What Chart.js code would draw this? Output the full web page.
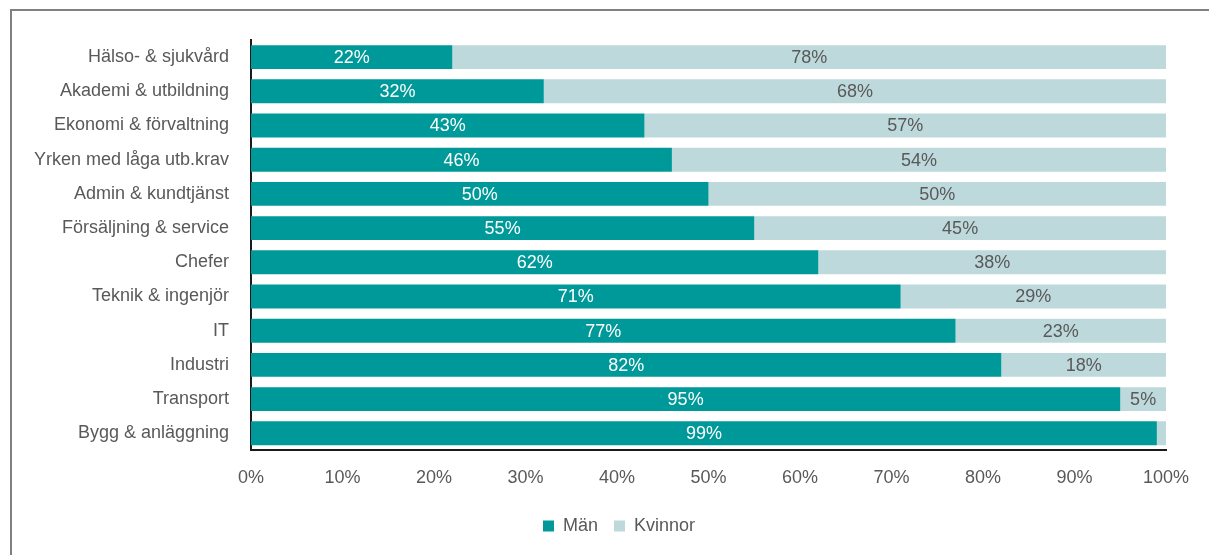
<!DOCTYPE html>
<html>
<head>
<meta charset="utf-8">
<script src="https://cdn.jsdelivr.net/npm/chart.js@4/dist/chart.umd.min.js"></script>
<style>
  html,body{margin:0;padding:0;background:#fff;}
  #wrap{position:relative;width:1209px;height:555px;}
  #frame{position:absolute;left:10px;top:9px;right:-5px;bottom:-5px;border-left:2px solid #808080;border-top:2px solid #808080;}
  canvas{position:absolute;left:0;top:0;}
</style>
</head>
<body>
<div id="wrap"><div id="frame"></div><canvas id="c" width="1209" height="555"></canvas></div>
<script>
const categories = ["Hälso- & sjukvård","Akademi & utbildning","Ekonomi & förvaltning","Yrken med låga utb.krav","Admin & kundtjänst","Försäljning & service","Chefer","Teknik & ingenjör","IT","Industri","Transport","Bygg & anläggning"];
const man = [22,32,43,46,50,55,62,71,77,82,95,99];
const kvinnor = [78,68,57,54,50,45,38,29,23,18,5,1];
const xTicks = [0,10,20,30,40,50,60,70,80,90,100];

const FONT = "'Liberation Sans','Arial',sans-serif";
const GRAY = '#595959';

const labelPlugin = {
  id: 'barLabels',
  afterDatasetsDraw(chart) {
    const ctx = chart.ctx;
    ctx.save();
    ctx.font = '18px ' + FONT;
    ctx.textAlign = 'center';
    ctx.textBaseline = 'middle';
    chart.data.datasets.forEach((ds, di) => {
      const meta = chart.getDatasetMeta(di);
      meta.data.forEach((bar, i) => {
        const v = ds.data[i];
        if (v < 3) return;
        const cx = (bar.x + bar.base) / 2;
        ctx.fillStyle = di === 0 ? '#ffffff' : GRAY;
        ctx.fillText(v + '%', cx, bar.y + 1);
      });
    });
    ctx.restore();
  }
};

// position the legend like the original
const legendShift = {
  id: 'legendShift',
  afterLayout(chart) {
    const lg = chart.legend;
    if (!lg) return;
    const w = lg.right - lg.left;
    const center = 619;
    lg.left = center - w / 2;
    lg.right = center + w / 2;
    lg.top -= 5;
    lg.bottom -= 5;
  }
};

new Chart(document.getElementById('c'), {
  type: 'bar',
  data: {
    labels: categories,
    datasets: [
      {label: 'Män', data: man, backgroundColor: '#009999', barPercentage: 0.7, categoryPercentage: 1},
      {label: 'Kvinnor', data: kvinnor, backgroundColor: '#BED9DB', barPercentage: 0.7, categoryPercentage: 1}
    ]
  },
  options: {
    indexAxis: 'y',
    responsive: false,
    animation: false,
    layout: {padding: {left: 10, right: 43, top: 40, bottom: 5}},
    plugins: {
      legend: {
        position: 'bottom',
        labels: {
          color: GRAY,
          font: {family: FONT, size: 18},
          boxWidth: 11, boxHeight: 11,
          padding: 16
        }
      },
      tooltip: {enabled: false}
    },
    scales: {
      x: {
        stacked: true, min: 0, max: 100,
        afterBuildTicks: (s) => { s.ticks = xTicks.map(v => ({value: v})); },
        grid: {display: false, drawTicks: false},
        border: {display: true, color: '#1a1a1a', width: 2},
        ticks: {color: GRAY, font: {family: FONT, size: 18}, padding: 17, callback: v => v + '%'}
      },
      y: {
        stacked: true,
        afterFit: (s) => { s.width = 241; },
        grid: {display: false, drawTicks: false},
        border: {display: true, color: '#1a1a1a', width: 2},
        ticks: {color: GRAY, font: {family: FONT, size: 18}, padding: 22}
      }
    }
  },
  plugins: [labelPlugin, legendShift]
});
</script>
</body>
</html>
